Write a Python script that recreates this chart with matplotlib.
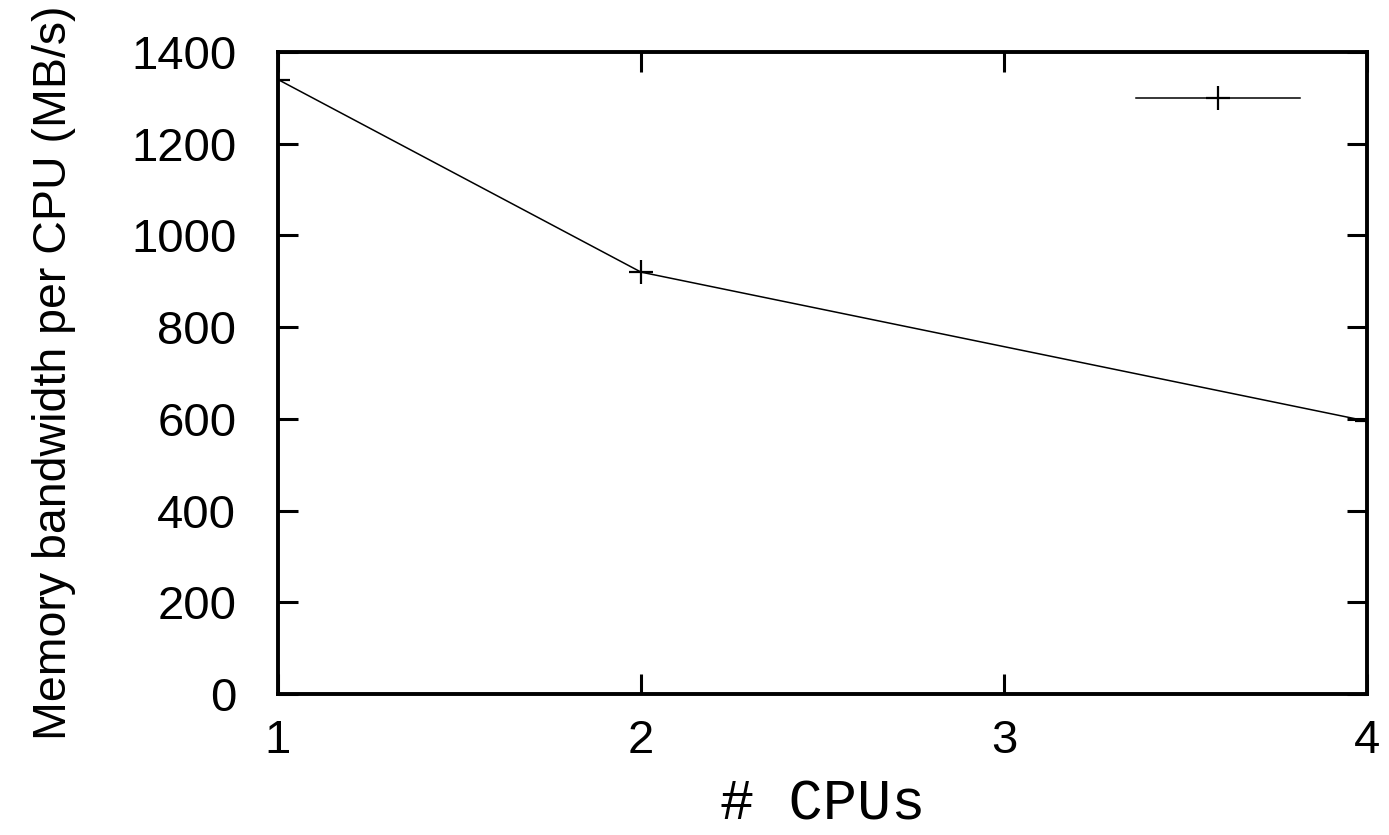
import matplotlib
matplotlib.use("Agg")
import matplotlib.pyplot as plt

# data
cpus = [1, 2, 4]
bandwidth = [1340, 920, 595]
xticks = [1, 2, 3, 4]
yticks = [0, 200, 400, 600, 800, 1000, 1200, 1400]

plt.rcParams['font.family'] = ['Liberation Sans', 'DejaVu Sans']

fig = plt.figure(figsize=(13.89, 8.35), dpi=100)
ax = fig.add_axes([278 / 1389, 1 - 694 / 835, (1367 - 278) / 1389, (694 - 52) / 835])

ax.plot(cpus, bandwidth, color='black', linewidth=1.1, marker='+',
        markersize=17, markeredgewidth=1.6, label=' ')

ax.set_xlim(1, 4)
ax.set_ylim(0, 1400)
ax.set_xticks(xticks)
ax.set_yticks(yticks)
ax.tick_params(direction='in', length=14.5, width=2.2, top=True, right=True,
               labelsize=34)
ax.tick_params(axis='y', pad=30)
ax.tick_params(axis='x', pad=18)
for s in ax.spines.values():
    s.set_linewidth(2.8)

ax.set_xlabel('# CPUs', family=['Liberation Mono', 'DejaVu Sans Mono'],
              fontsize=41)
ax.xaxis.set_label_coords(0.5, -0.13)
ax.set_ylabel('Memory bandwidth per CPU (MB/s)', fontsize=33.5)
ax.yaxis.set_label_coords(-202 / 1089, 0.5)

ax.legend(loc='upper right', frameon=False, handlelength=5.9, fontsize=20,
          handletextpad=0.2, borderaxespad=0.0, bbox_to_anchor=(0.961, 0.961))

fig.savefig('out.png', dpi=100)
